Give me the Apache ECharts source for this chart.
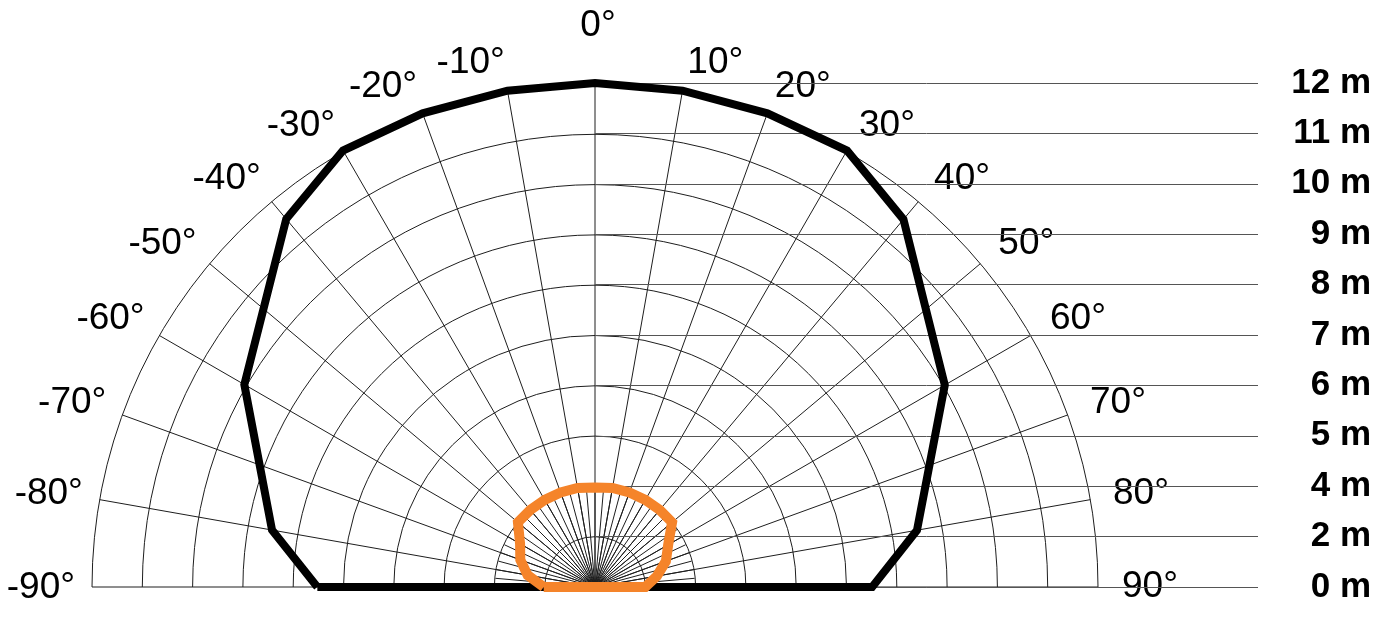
<!DOCTYPE html>
<html>
<head>
<meta charset="utf-8">
<script src="https://cdn.jsdelivr.net/npm/echarts@6/dist/echarts.min.js"></script>
<style>
html,body{margin:0;padding:0;background:#fff;}
#c{width:1393px;height:625px;}
</style>
</head>
<body>
<div id="c"></div>
<script>
// ---- data ----
const heightLabels = ['0 m', '2 m', '4 m', '5 m', '6 m', '7 m', '8 m', '9 m', '10 m', '11 m', '12 m'];
const blackAngles = [-90, -80, -60, -40, -30, -20, -10, 0, 10, 20, 30, 40, 60, 80, 90];
const blackRadii  = [5.52, 6.52, 8.05, 9.55, 10.02, 10.02, 10.02, 10.02, 10.02, 10.02, 10.02, 9.54, 8.03, 6.5, 5.51];
const orangeAngles = [-90, -80, -70, -60, -50, -40, -30, -20, -10, 0, 10, 20, 30, 40, 50, 60, 70, 80, 90];
const orangeRadii  = [1.02, 1.36, 1.58, 1.72, 2.0, 2.0, 2.0, 2.0, 2.0, 1.98, 2.0, 2.0, 2.0, 2.0, 2.0, 1.68, 1.5, 1.25, 1.0];

// ---- styling helpers ----
function closedPolar(radii, angles) {
  const d = angles.map((a, i) => [radii[i], a]);
  d.push(d[0]);
  return d;
}
const labelFont = 'Liberation Sans, Arial, sans-serif';
const angleLabelPad = {
  '-90': [1, 0, 0, 0], '-80': [0, 0, 5.4, 0], '-70': [0, 0, 0.7, 0], '-60': [0, 0, 3.5, 0],
  '-50': [0, 0, 5.7, 0], '-40': [0, 0, 7.2, 0], '-30': [0, 0, 9.2, 0], '-20': [0, 0, 10.4, 0],
  '-10': [0, 68, 13, 0], '0': [0, 0, 71, 6], '10': [0, 0, 13, 60], '20': [0, 0, 12, 2],
  '30': [0, 0, 10, 4], '40': [0, 0, 8, 4.8], '50': [0, 0, 6, 5], '60': [0, 0, 3.5, 4.7],
  '70': [0, 0, 0, 6.4], '80': [0, 0, 5.4, 5.9], '90': [0, 0, 0, 7]
};
const styleKey = v => 'a' + (v < 0 ? 'm' + (-v) : String(v));
const rich = {};
Object.keys(angleLabelPad).forEach(k => {
  rich[styleKey(Number(k))] = {
    fontFamily: labelFont, fontSize: 37, color: '#000', lineHeight: 12,
    padding: angleLabelPad[k]
  };
});

const gridColor = '#1e1e1e';
const chart = echarts.init(document.getElementById('c'), null, {renderer: 'canvas'});
chart.setOption({
  animation: false,
  backgroundColor: '#fff',
  grid: {left: 595, right: 135, top: 83, bottom: 38, containLabel: false, outerBoundsMode: 'none'},
  xAxis: {type: 'value', min: 0, max: 1, show: false},
  yAxis: {
    type: 'category', data: heightLabels, boundaryGap: false, position: 'right',
    axisLine: {show: false}, axisTick: {show: false},
    splitLine: {show: true, lineStyle: {color: '#555', width: 1}},
    axisLabel: {
      interval: 0, align: 'right', margin: 113, fontFamily: labelFont,
      fontWeight: 'bold', fontSize: 35, color: '#000', padding: [0, 0, 8, 0]
    }
  },
  polar: [
    {center: [595, 587], radius: 503},
    {center: [595, 587], radius: 100},
    {center: [595, 587], radius: 553.3}
  ],
  angleAxis: [
    {
      polarIndex: 0, type: 'value', min: -90, max: 90, interval: 10,
      startAngle: 180, endAngle: 0, clockwise: true,
      axisLine: {show: false}, axisTick: {show: false},
      splitLine: {show: true, lineStyle: {color: gridColor, width: 1}},
      axisLabel: {
        show: true, margin: 17, fontFamily: labelFont, fontSize: 37, color: '#000',
        formatter: v => '{' + styleKey(v) + '|' + v + '°}',
        rich: rich
      }
    },
    {
      polarIndex: 1, type: 'value', min: -90, max: 90, interval: 5,
      startAngle: 180, endAngle: 0, clockwise: true,
      axisLine: {show: false}, axisTick: {show: false}, axisLabel: {show: false},
      splitLine: {show: true, lineStyle: {color: gridColor, width: 1}}
    },
    {
      polarIndex: 2, type: 'value', min: -90, max: 270, interval: 10,
      startAngle: 180, clockwise: true, show: false
    }
  ],
  radiusAxis: [
    {
      polarIndex: 0, type: 'value', min: 0, max: 10, interval: 1,
      axisLine: {show: false}, axisTick: {show: false}, axisLabel: {show: false},
      splitLine: {show: true, lineStyle: {color: gridColor, width: 1}}
    },
    {
      polarIndex: 1, type: 'value', min: 0, max: 2, interval: 1,
      axisLine: {show: false}, axisTick: {show: false}, axisLabel: {show: false},
      splitLine: {show: false}
    },
    {
      polarIndex: 2, type: 'value', min: 0, max: 11, interval: 1, show: false
    }
  ],
  series: [
    {
      type: 'line', coordinateSystem: 'polar', polarIndex: 2,
      data: closedPolar(blackRadii, blackAngles),
      symbol: 'none', clip: false, z: 5,
      lineStyle: {color: '#000', width: 8, join: 'miter'}
    },
    {
      type: 'line', coordinateSystem: 'polar', polarIndex: 2,
      data: closedPolar(orangeRadii, orangeAngles),
      symbol: 'none', clip: false, z: 6,
      lineStyle: {color: '#f5842a', width: 10, join: 'miter'}
    }
  ]
});
</script>
</body>
</html>
